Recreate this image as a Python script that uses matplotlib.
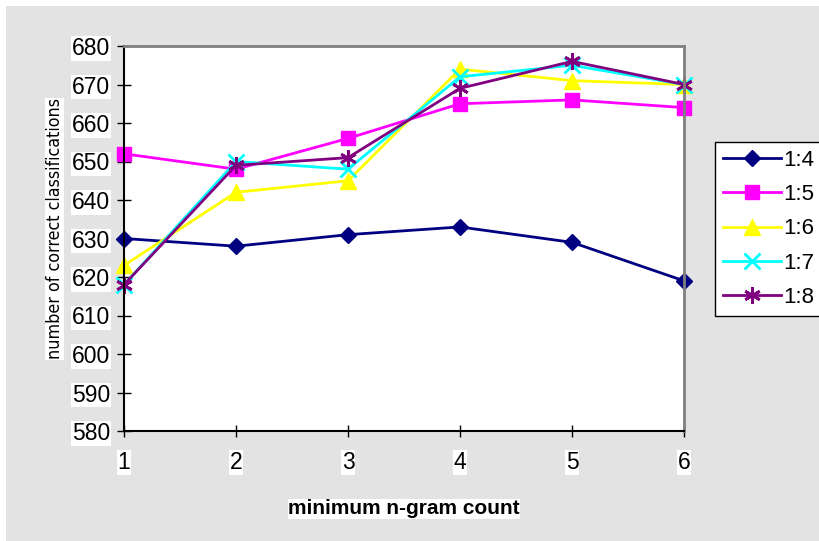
import matplotlib
matplotlib.use("Agg")
import matplotlib.pyplot as plt
from matplotlib.patches import Rectangle
from matplotlib import font_manager

x_vals = [1, 2, 3, 4, 5, 6]
s_14 = [630, 628, 631, 633, 629, 619]
s_15 = [652, 648, 656, 665, 666, 664]
s_16 = [623, 642, 645, 674, 671, 670]
s_17 = [618, 650, 648, 672, 675, 670]
s_18 = [618, 649, 651, 669, 676, 670]
labels = ["1:4", "1:5", "1:6", "1:7", "1:8"]
y_ticks = list(range(580, 681, 10))

plt.rcParams['font.family'] = ['Liberation Sans', 'DejaVu Sans']

names = {f.name for f in font_manager.fontManager.ttflist}
if 'Liberation Sans Narrow' in names:
    ylab_font = dict(family=['Liberation Sans Narrow'], fontsize=15)
elif 'DejaVu Sans Condensed' in names:
    ylab_font = dict(family=['DejaVu Sans Condensed'], fontsize=12.8)
else:
    ylab_font = dict(family=['DejaVu Sans'], stretch='condensed', fontsize=12.8)

fig = plt.figure(figsize=(8.2, 5.41), dpi=100)
fig.patch.set_facecolor('white')
fig.patches.append(Rectangle((6/820, 0), 1, 1 - 6/541, transform=fig.transFigure,
                             facecolor='#e3e3e3', edgecolor='none', zorder=-10))

ax = fig.add_axes([124/820, 1 - 431/541, (684 - 124)/820, (431 - 46)/541])
ax.set_facecolor('white')

styles = [
    dict(color='#000080', marker='D', markersize=8),
    dict(color='#ff00ff', marker='s', markersize=10),
    dict(color='#ffff00', marker='^', markersize=11),
    dict(color='#00ffff', marker='x', markersize=11, markeredgewidth=2),
    dict(color='#800080', marker=(6, 2, 0), markersize=12, markeredgewidth=2),
]
series = [s_14, s_15, s_16, s_17, s_18]
for s, lab, st in zip(series, labels, styles):
    ax.plot(x_vals, s, label=lab, linewidth=2, clip_on=False, **st)

ax.set_xlim(1, 6)
ax.set_ylim(580, 680)
ax.set_yticks(y_ticks)
ax.set_xticks(x_vals)

for side in ['left', 'bottom']:
    ax.spines[side].set_color('black')
    ax.spines[side].set_linewidth(1.5)
for side in ['top', 'right']:
    ax.spines[side].set_color('#808080')
    ax.spines[side].set_linewidth(2)

ax.tick_params(axis='y', direction='inout', length=10, width=1, labelsize=16.5, pad=5)
ax.tick_params(axis='x', direction='inout', length=9, width=1, labelsize=16.5, pad=10)
for t in ax.get_xticklabels() + ax.get_yticklabels():
    t.set_bbox(dict(facecolor='white', edgecolor='none', pad=0.5))

ax.set_ylabel("number of correct classifications",
              bbox=dict(facecolor='white', edgecolor='none', pad=0.5), **ylab_font)
ax.yaxis.set_label_coords(-0.108, 0.525)
ax.set_xlabel("minimum n-gram count", fontsize=15, fontweight='bold', labelpad=18,
              bbox=dict(facecolor='white', edgecolor='none', pad=0.5))

leg = ax.legend(loc='upper left', bbox_to_anchor=(715/820, 1 - 142/541),
                bbox_transform=fig.transFigure, fontsize=16, frameon=True,
                fancybox=False, edgecolor='black', framealpha=1, borderaxespad=0,
                handlelength=2.6, borderpad=0.35, labelspacing=0.6, handletextpad=0.1)
leg.get_frame().set_linewidth(1)

fig.savefig("out.png", dpi=100)
